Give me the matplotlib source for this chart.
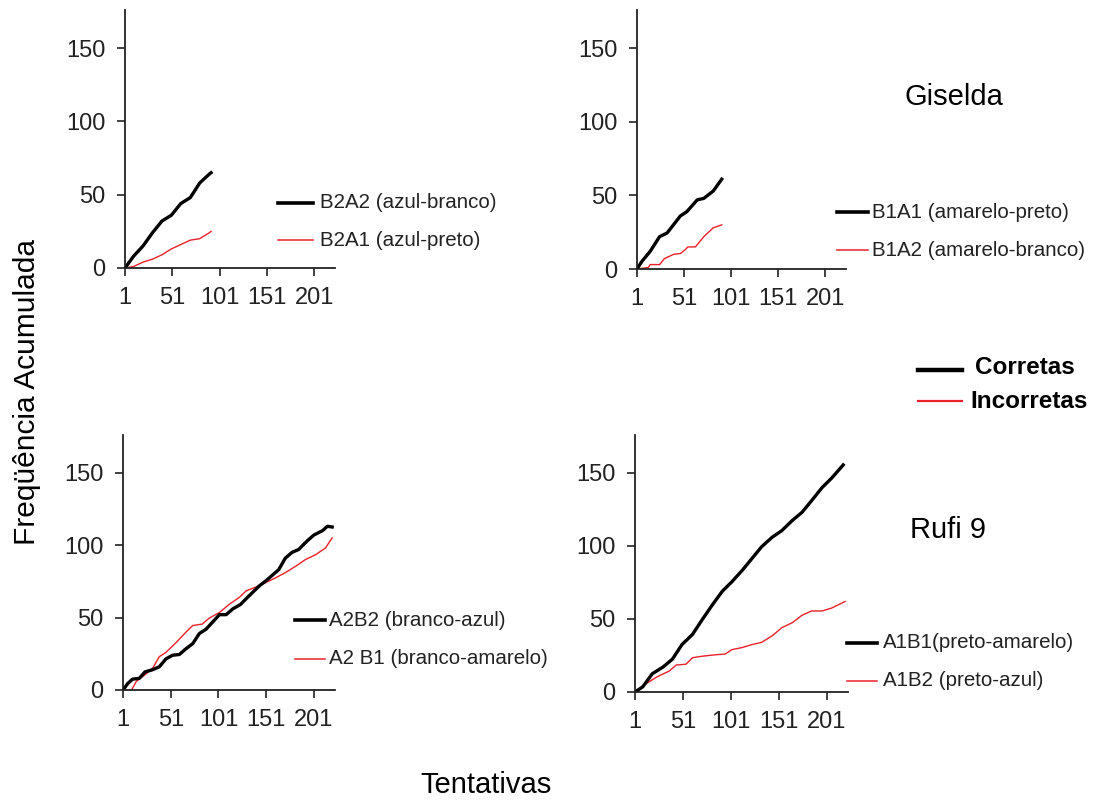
import matplotlib
matplotlib.use('Agg')
import matplotlib.pyplot as plt
from matplotlib.lines import Line2D

plt.rcParams['font.family'] = ['Liberation Sans', 'DejaVu Sans']

RED = '#e8202a'

# Giselda - B2 (top left)
tl_t_cor = [1, 10, 20, 30, 40, 50, 60, 70, 80, 90, 92]
tl_cor = [0, 8, 15, 24, 32, 36, 44, 48, 58, 64, 65]
tl_t_inc = [1, 10, 20, 30, 40, 50, 60, 70, 80, 90, 92]
tl_inc = [0, 1, 4, 6, 9, 13, 16, 19, 20, 24, 25]

# Giselda - B1 (top right)
tr_t_cor = [1, 6, 15, 25, 33, 47, 54, 65, 72, 82, 91]
tr_cor = [0, 5, 12, 22, 24.5, 36, 39, 47, 48, 53, 61]
tr_t_inc = [1, 13, 15, 25, 30, 40, 47, 52, 55, 63, 72, 82, 91]
tr_inc = [0, 1, 3, 3, 7, 10, 10.5, 13, 15, 15, 22, 28, 30]

# Rufi 9 - A2 (bottom left)
bl_t_cor = [1, 6, 11, 18, 24, 32, 39, 46, 53, 60, 67, 74, 81, 88, 95, 102, 109,
            116, 124, 133, 144, 150, 157, 164, 171, 178, 185, 194, 201, 210, 215, 220]
bl_cor = [0, 4.5, 7.5, 8, 12.5, 14, 16, 21.5, 24, 24.5, 28.5, 32, 39, 42, 47, 52, 52,
          56, 59, 65, 72, 75, 79, 83, 91, 95, 97, 103, 107, 110, 113, 112.5]
bl_t_inc = [1, 10, 15, 25, 32, 39, 46, 57, 67, 74, 84, 91, 102, 112, 123, 130, 140,
            150, 161, 171, 182, 192, 203, 213, 220]
bl_inc = [0, 0, 6, 11, 15, 23, 26, 33, 40, 44.5, 45.5, 49.5, 53.5, 59, 64, 68.5, 71,
          74, 77.5, 81, 85.5, 90, 93.5, 98, 105]

# Rufi 9 - A1 (bottom right)
br_t_cor = [1, 9, 19, 30, 40, 50, 61, 71, 82, 92, 102, 113, 123, 133, 144, 154, 165,
            175, 185, 196, 206, 218]
br_cor = [0, 3.5, 12.5, 17, 22.5, 32.5, 39.5, 49.5, 60, 69, 75.5, 83.5, 91.5, 99.5,
          106, 110.5, 117.5, 123, 131, 140, 146.5, 155.5]
br_t_inc = [1, 12, 23, 37, 44, 54, 61, 71, 85, 95, 102, 113, 123, 133, 144, 154, 165,
            175, 185, 196, 206, 220]
br_inc = [0, 5.5, 10, 14.5, 18.5, 19, 23.5, 24.5, 25.5, 26, 29, 30.5, 32.5, 34, 38.5,
          44, 47.5, 52.5, 55.5, 55.5, 57.5, 62]

xticks = [1, 51, 101, 151, 201]
yticks = [0, 50, 100, 150]

legend_labels = [
    ('B2A2 (azul-branco)', 'B2A1 (azul-preto)'),
    ('B1A1 (amarelo-preto)', 'B1A2 (amarelo-branco)'),
    ('A2B2 (branco-azul)', 'A2 B1 (branco-amarelo)'),
    ('A1B1(preto-amarelo)', 'A1B2 (preto-azul)'),
]

W, H = 1096, 800
fig = plt.figure(figsize=(W / 100, H / 100), dpi=100)


def px(x0, y0, x1, y1):
    # pixel box -> figure fraction [left, bottom, width, height]
    return [x0 / W, 1 - y1 / H, (x1 - x0) / W, (y1 - y0) / H]


boxes = [px(125, 10, 335, 268), px(637, 10, 846, 269),
         px(123, 435, 335, 690), px(635, 435, 848, 692)]
series = [(tl_t_cor, tl_cor, tl_t_inc, tl_inc),
          (tr_t_cor, tr_cor, tr_t_inc, tr_inc),
          (bl_t_cor, bl_cor, bl_t_inc, bl_inc),
          (br_t_cor, br_cor, br_t_inc, br_inc)]

for box, (tc, c, ti, inc) in zip(boxes, series):
    ax = fig.add_axes(box)
    ax.plot(ti, inc, color=RED, lw=1.0)
    ax.plot(tc, c, color='black', lw=2.4)
    ax.set_xlim(1, 223)
    ax.set_ylim(0, 176)
    ax.set_xticks(xticks)
    ax.set_yticks(yticks)
    ax.spines['top'].set_visible(False)
    ax.spines['right'].set_visible(False)
    for s in ['left', 'bottom']:
        ax.spines[s].set_linewidth(1.3)
        ax.spines[s].set_color('#222222')
    ax.tick_params(axis='both', direction='out', length=6, width=1.2,
                   labelsize=17, colors='#222222')
    ax.tick_params(axis='y', pad=8)
    ax.tick_params(axis='x', pad=8)

# legends inside each panel (pixel positions)
leg_pos = [(278, 313, 203, 240, 320), (837, 868, 212, 250, 872),
           (295, 325, 620, 659, 329), (847, 877, 643, 681, 883)]
for (x0, x1, yb, yr, xt), (lb, lr) in zip(leg_pos, legend_labels):
    fig.add_artist(Line2D([x0 / W, x1 / W], [1 - yb / H, 1 - yb / H],
                          color='black', lw=2.6))
    fig.add_artist(Line2D([x0 / W, x1 / W], [1 - yr / H, 1 - yr / H],
                          color=RED, lw=1.1))
    fig.text(xt / W, 1 - yb / H, lb, fontsize=14.8, va='center', ha='left',
             color='#222222')
    fig.text(xt / W, 1 - yr / H, lr, fontsize=14.8, va='center', ha='left',
             color='#222222')

# global legend
fig.add_artist(Line2D([918 / W, 962 / W], [1 - 370 / H, 1 - 370 / H],
                      color='black', lw=3.2))
fig.add_artist(Line2D([918 / W, 962 / W], [1 - 401 / H, 1 - 401 / H],
                      color=RED, lw=1.6))
fig.text(975 / W, 1 - 367 / H, 'Corretas', fontsize=17.5, fontweight='bold',
         va='center', ha='left')
fig.text(970 / W, 1 - 401 / H, 'Incorretas', fontsize=17.5, fontweight='bold',
         va='center', ha='left')

fig.text(954 / W, 1 - 97 / H, 'Giselda', fontsize=21, ha='center', va='center')
fig.text(948 / W, 1 - 530 / H, 'Rufi 9', fontsize=21, ha='center', va='center')

fig.text(27 / W, 1 - 392 / H, 'Freqüência Acumulada', fontsize=21.5,
         rotation=90, ha='center', va='center')
fig.text(486 / W, 1 - 785 / H, 'Tentativas', fontsize=21, ha='center',
         va='center')

fig.savefig('out.png', dpi=100)
